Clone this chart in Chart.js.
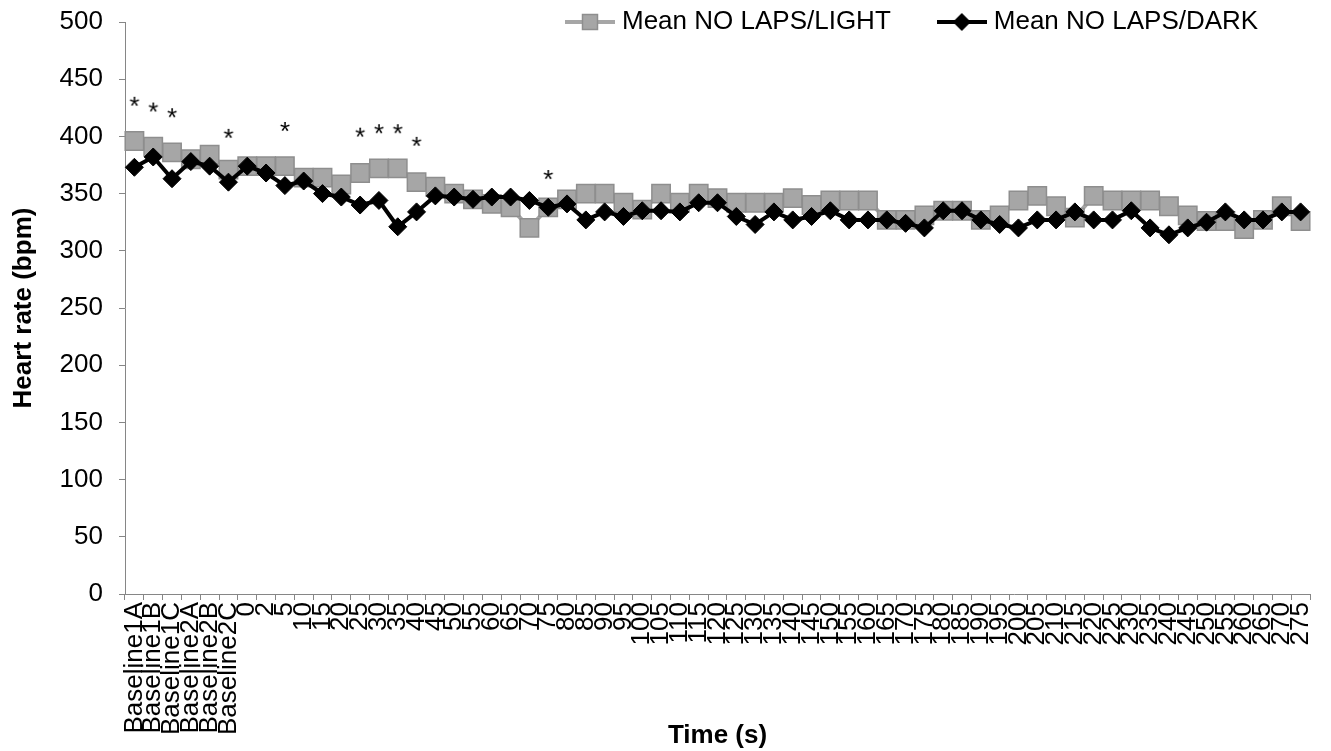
<!DOCTYPE html>
<html>
<head>
<meta charset="utf-8">
<style>
html,body{margin:0;padding:0;background:#fff;}
#wrap{position:relative;width:1331px;height:751px;}
</style>
<script src="https://cdn.jsdelivr.net/npm/chart.js@4.4.0/dist/chart.umd.min.js"></script>
</head>
<body>
<div id="wrap"><canvas id="c"></canvas></div>
<script>
// ---- data ----
const categories = ["Baseline1A","Baseline1B","Baseline1C","Baseline2A","Baseline2B","Baseline2C",
  "0","2","5","10","15","20","25","30","35","40","45","50","55","60","65","70","75","80","85","90","95",
  "100","105","110","115","120","125","130","135","140","145","150","155","160","165","170","175","180",
  "185","190","195","200","205","210","215","220","225","230","235","240","245","250","255","260","265",
  "270","275"];

const lightValues = [396,391,386,380,384,371,
  374,374,374,364,364,358,368,372,372,360,356,350,345,341,338,320,338,345,350,350,342,
  336,350,342,350,346,342,342,342,346,340,344,344,344,327,327,331,335,
  335,327,331,344,348,339,329,348,344,344,344,339,331,326,326,319,327,
  339,326];

const darkValues = [373,382,363,378,374,360,
  374,368,357,361,350,347,340,344,321,334,348,347,345,347,347,344,338,341,327,334,330,
  335,335,334,342,342,330,323,334,327,330,335,327,327,327,324,320,335,
  335,327,323,320,327,327,334,327,327,335,320,314,320,325,334,327,327,
  334,334];

// significance asterisks (value = vertical position of the mark)
const sigMarks = [432,427,422,null,null,404,
  null,null,410,null,null,null,405,408,408,397,null,null,null,null,null,null,368,null,null,null,null,
  null,null,null,null,null,null,null,null,null,null,null,null,null,null,null,null,null,
  null,null,null,null,null,null,null,null,null,null,null,null,null,null,null,null,null,
  null,null];

const yMin = 0, yMax = 500, yStep = 50;
const seriesNames = ["Mean NO LAPS/LIGHT", "Mean NO LAPS/DARK"];

// ---- styling helpers ----
const FONT = '"Liberation Sans", Arial, Helvetica, sans-serif';
Chart.defaults.font.family = FONT;
Chart.defaults.color = '#000';

function makeCanvas(w, h, draw) {
  const c = document.createElement('canvas');
  c.width = w; c.height = h;
  draw(c.getContext('2d'));
  return c;
}
const starImg = makeCanvas(24, 24, ctx => {
  ctx.fillStyle = '#000';
  ctx.font = '26px ' + FONT;
  ctx.textAlign = 'center';
  ctx.textBaseline = 'alphabetic';
  ctx.fillText('*', 12, 27);
});
const lightLegendImg = makeCanvas(50, 20, ctx => {
  ctx.strokeStyle = '#a6a6a6'; ctx.lineWidth = 4;
  ctx.beginPath(); ctx.moveTo(0, 10); ctx.lineTo(50, 10); ctx.stroke();
  ctx.fillStyle = '#a6a6a6'; ctx.fillRect(17.5, 2.5, 15, 15);
  ctx.strokeStyle = '#8e8e8e'; ctx.lineWidth = 1.5; ctx.strokeRect(17.5, 2.5, 15, 15);
});
const darkLegendImg = makeCanvas(50, 20, ctx => {
  ctx.strokeStyle = '#000'; ctx.lineWidth = 4;
  ctx.beginPath(); ctx.moveTo(0, 10); ctx.lineTo(50, 10); ctx.stroke();
  ctx.fillStyle = '#000';
  ctx.beginPath(); ctx.moveTo(25 - 9, 10); ctx.lineTo(25, 1); ctx.lineTo(25 + 9, 10); ctx.lineTo(25, 19); ctx.closePath(); ctx.fill();
});
const legendImgs = [lightLegendImg, darkLegendImg];

// legend floats over the plot top (does not take layout space)
const floatLegend = {
  id: 'floatLegend',
  afterInit(chart) {
    const lg = chart.legend;
    if (!lg) return;
    const f = lg.fit.bind(lg);
    lg.fit = function () { f(); this.height = 0; };
  },
  afterLayout(chart) {
    const lg = chart.legend;
    if (!lg) return;
    const pad = lg.options.labels.padding;
    lg.left = 571 - pad;
    lg.right = 1331;
    lg.top = 22 - 13 - pad;
    lg.bottom = 60;
    lg.width = lg.right - lg.left;
    lg.height = lg.bottom - lg.top;
  }
};

new Chart(document.getElementById('c'), {
  type: 'line',
  data: {
    labels: categories,
    datasets: [
      {
        label: seriesNames[0], data: lightValues,
        borderColor: '#a6a6a6', borderWidth: 4, tension: 0,
        pointStyle: 'rect', pointRadius: 13,
        pointBackgroundColor: '#a6a6a6', pointBorderColor: '#8e8e8e', pointBorderWidth: 1.5,
        order: 2
      },
      {
        label: seriesNames[1], data: darkValues,
        borderColor: '#000', borderWidth: 4, tension: 0,
        pointStyle: 'rectRot', pointRadius: 9,
        pointBackgroundColor: '#000', pointBorderColor: '#000', pointBorderWidth: 1,
        order: 1
      },
      {
        label: 'sig', data: sigMarks, showLine: false,
        pointStyle: starImg, pointRadius: 6, order: 0
      }
    ]
  },
  options: {
    responsive: true,
    maintainAspectRatio: false,
    animation: false,
    events: [],
    layout: { padding: { top: 22, right: 21, left: 0, bottom: 0 } },
    plugins: {
      tooltip: { enabled: false },
      legend: {
        display: true,
        position: 'top',
        align: 'start',
        labels: {
          usePointStyle: true,
          pointStyleWidth: 38,
          padding: 52,
          color: '#000',
          font: { size: 26 },
          filter: item => item.datasetIndex < 2,
          sort: (a, b) => a.datasetIndex - b.datasetIndex,
          generateLabels: chart => {
            const items = Chart.defaults.plugins.legend.labels.generateLabels(chart);
            items.forEach(it => { if (legendImgs[it.datasetIndex]) it.pointStyle = legendImgs[it.datasetIndex]; });
            return items;
          }
        }
      }
    },
    scales: {
      x: {
        type: 'category',
        offset: true,
        grid: { display: true, offset: true, drawOnChartArea: false, drawTicks: true, tickLength: 6, color: '#868686', lineWidth: 1 },
        border: { display: true, color: '#868686', width: 1 },
        ticks: { autoSkip: false, minRotation: 90, maxRotation: 90, padding: 2, color: '#000', font: { size: 26 } },
        title: { display: true, text: 'Time (s)', color: '#000', font: { size: 26, weight: 'bold' }, padding: { top: 0, bottom: 0 } },
        afterFit(s) { s.height = 157; s.paddingLeft = 0; s.paddingRight = 0; }
      },
      y: {
        min: yMin, max: yMax,
        grid: { display: true, drawOnChartArea: false, drawTicks: true, tickLength: 6, color: '#868686', lineWidth: 1 },
        border: { display: true, color: '#868686', width: 1 },
        ticks: { stepSize: yStep, padding: 16, color: '#000', font: { size: 26 } },
        title: { display: true, text: 'Heart rate (bpm)', color: '#000', font: { size: 26, weight: 'bold' }, padding: { top: 8, bottom: 0 } },
        afterFit(s) { s.width = 125; s.paddingTop = 0; s.paddingBottom = 0; }
      }
    }
  },
  plugins: [floatLegend]
});
</script>
</body>
</html>
